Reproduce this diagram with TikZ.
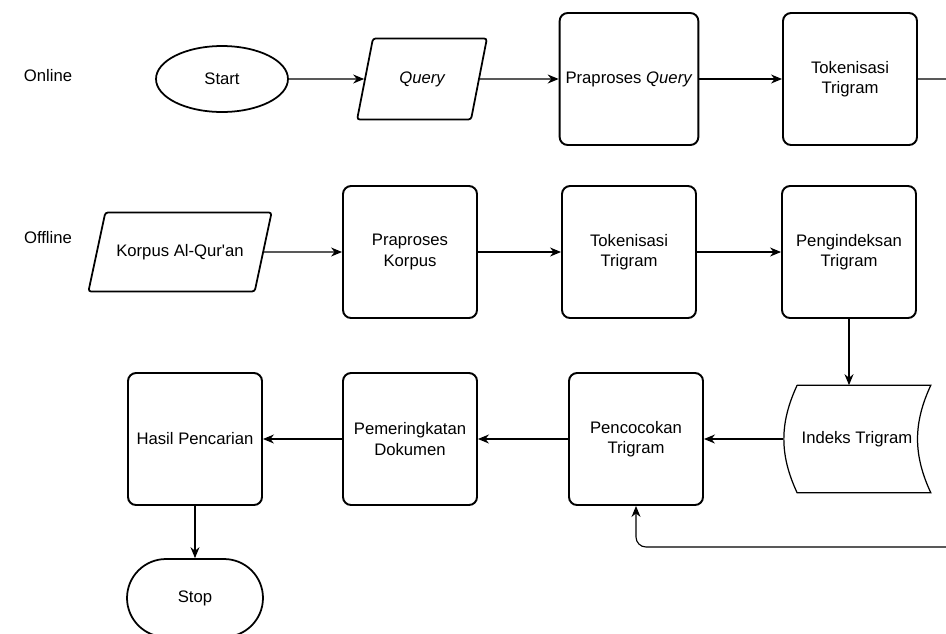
\documentclass[tikz,border=0pt]{standalone}
\usepackage{fontspec}
\setmainfont{Liberation Sans}
\usetikzlibrary{shapes.geometric,arrows.meta}
\newcommand{\flowfont}{\fontsize{9.5}{11.5}\selectfont}
\tikzset{
  proc/.style={draw, line width=1.1pt, rounded corners=0.16cm, minimum width=2.68cm, minimum height=2.64cm, align=center, font=\flowfont},
  inout/.style={draw, line width=1pt, trapezium, trapezium stretches=true, rounded corners=1.5pt, align=center, font=\flowfont},
  term/.style={draw, line width=1pt, align=center, font=\flowfont},
  lbl/.style={font=\flowfont}
}
\begin{document}
\begin{tikzpicture}[x=0.02cm, y=-0.02cm, >={Stealth[length=2.2mm,width=1.8mm]}]
        \useasboundingbox (0,0) rectangle (946,633);

        \node [lbl] (online) at (48,76) {Online};
        \node [lbl] (offline) at (48,238) {Offline};

        \node [term, ellipse, minimum width=2.64cm, minimum height=1.32cm] (start) at (222,79) {Start};
        \node [inout, trapezium left angle=71, trapezium right angle=109, minimum width=2.6cm, minimum height=1.62cm] (query) at (422,79) {\itshape Query};
        \node [proc] (prepq) at (629,79) {Praproses \textit{Query}};
        \node [proc] (tokq) at (850,79) {Tokenisasi\\Trigram};

        \node [inout, trapezium left angle=60, trapezium right angle=120, minimum width=3.7cm, minimum height=1.58cm] (korpus) at (180,252) {Korpus Al-Qur\textquotesingle an};
        \node [proc] (prepk) at (410,252) {Praproses\\Korpus};
        \node [proc] (tokk) at (629,252) {Tokenisasi\\Trigram};
        \node [proc] (indexing) at (849,252) {Pengindeksan\\Trigram};

        \node [minimum width=2.94cm, minimum height=2.14cm, font=\flowfont] (idx) at (857,439) {Indeks Trigram};
        \draw [line width=0.7pt] ([xshift=0.28cm]idx.north west) -- (idx.north east)
            to[out=-115, in=115] (idx.south east) -- ([xshift=0.28cm]idx.south west)
            to[out=115, in=-115] ([xshift=0.28cm]idx.north west);

        \node [proc] (match) at (636,439) {Pencocokan\\Trigram};
        \node [proc] (rank) at (410,439) {Pemeringkatan\\Dokumen};
        \node [proc] (result) at (195,439) {Hasil Pencarian};
        \node [term, rounded corners=0.78cm, minimum width=2.72cm, minimum height=1.56cm] (stop) at (195,598) {Stop};

        \coordinate (loop) at (975,547);

        \draw[->, line width=0.65pt] (start) -- (query);
        \draw[->, line width=0.65pt] (query) -- (prepq);
        \draw[->, line width=0.65pt] (prepq) -- (tokq);
        \draw[->, line width=0.65pt, rounded corners=0.2cm] (tokq.east) -| (loop) -| (match.south);

        \draw[->, line width=0.65pt] (korpus) -- (prepk);
        \draw[->, line width=0.65pt] (prepk) -- (tokk);
        \draw[->, line width=0.65pt] (tokk) -- (indexing);
        \draw[->, line width=0.65pt] (indexing.south) -- (indexing.south |- idx.north);

        \draw[->, line width=0.65pt] (idx.west) -- (match.east);
        \draw[->, line width=0.65pt] (match) -- (rank);
        \draw[->, line width=0.65pt] (rank) -- (result);
        \draw[->, line width=0.65pt] (result) -- (stop);

    \end{tikzpicture}
\end{document}
